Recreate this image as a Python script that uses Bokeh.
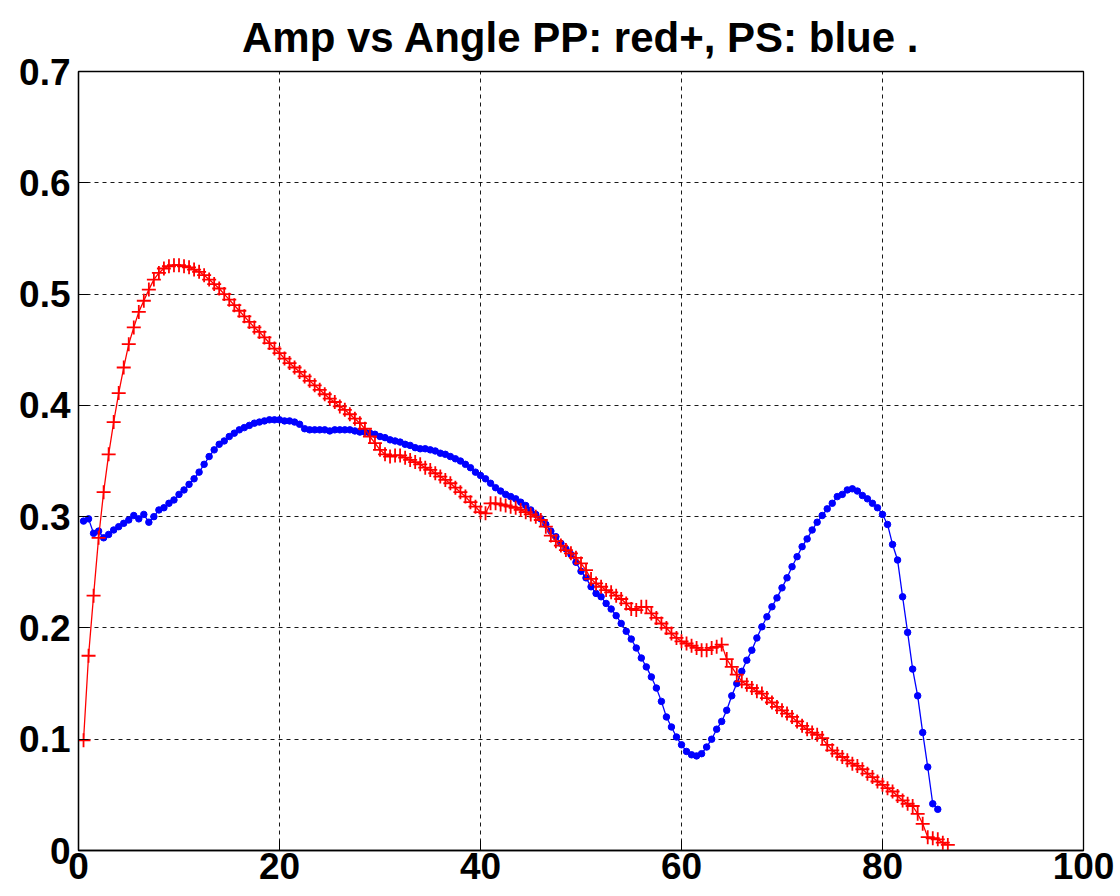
from bokeh.plotting import figure
from bokeh.models import Range1d, FixedTicker
from bokeh.embed import file_html
from bokeh.resources import INLINE

title_text = "Amp vs Angle PP: red+, PS: blue ."

# incidence angle samples (degrees)
angle = [
    0.5, 1.0, 1.5, 2.0, 2.5, 3.0, 3.5, 4.0, 4.5, 5.0,
    5.5, 6.0, 6.5, 7.0, 7.5, 8.0, 8.5, 9.0, 9.5, 10.0,
    10.5, 11.0, 11.5, 12.0, 12.5, 13.0, 13.5, 14.0, 14.5, 15.0,
    15.5, 16.0, 16.5, 17.0, 17.5, 18.0, 18.5, 19.0, 19.5, 20.0,
    20.5, 21.0, 21.5, 22.0, 22.5, 23.0, 23.5, 24.0, 24.5, 25.0,
    25.5, 26.0, 26.5, 27.0, 27.5, 28.0, 28.5, 29.0, 29.5, 30.0,
    30.5, 31.0, 31.5, 32.0, 32.5, 33.0, 33.5, 34.0, 34.5, 35.0,
    35.5, 36.0, 36.5, 37.0, 37.5, 38.0, 38.5, 39.0, 39.5, 40.0,
    40.5, 41.0, 41.5, 42.0, 42.5, 43.0, 43.5, 44.0, 44.5, 45.0,
    45.5, 46.0, 46.5, 47.0, 47.5, 48.0, 48.5, 49.0, 49.5, 50.0,
    50.5, 51.0, 51.5, 52.0, 52.5, 53.0, 53.5, 54.0, 54.5, 55.0,
    55.5, 56.0, 56.5, 57.0, 57.5, 58.0, 58.5, 59.0, 59.5, 60.0,
    60.5, 61.0, 61.5, 62.0, 62.5, 63.0, 63.5, 64.0, 64.5, 65.0,
    65.5, 66.0, 66.5, 67.0, 67.5, 68.0, 68.5, 69.0, 69.5, 70.0,
    70.5, 71.0, 71.5, 72.0, 72.5, 73.0, 73.5, 74.0, 74.5, 75.0,
    75.5, 76.0, 76.5, 77.0, 77.5, 78.0, 78.5, 79.0, 79.5, 80.0,
    80.5, 81.0, 81.5, 82.0, 82.5, 83.0, 83.5, 84.0, 84.5, 85.0,
    85.5, 86.0, 86.5,
]

# PP amplitude (red +)
pp_amp = [
    0.099, 0.175, 0.229, 0.281, 0.322, 0.356, 0.385, 0.411, 0.434, 0.455,
    0.470, 0.484, 0.494, 0.504, 0.513, 0.519, 0.523, 0.525, 0.526, 0.526,
    0.525, 0.524, 0.522, 0.520, 0.517, 0.513, 0.509, 0.505, 0.500, 0.495,
    0.490, 0.485, 0.480, 0.475, 0.470, 0.466, 0.461, 0.456, 0.451, 0.447,
    0.442, 0.438, 0.434, 0.430, 0.426, 0.422, 0.418, 0.414, 0.410, 0.406,
    0.403, 0.399, 0.396, 0.392, 0.388, 0.384, 0.379, 0.372, 0.366, 0.360,
    0.356, 0.354, 0.355, 0.355, 0.353, 0.351, 0.349, 0.347, 0.344, 0.342,
    0.339, 0.336, 0.333, 0.330, 0.326, 0.322, 0.318, 0.313, 0.309, 0.304,
    0.303, 0.312, 0.312, 0.311, 0.310, 0.309, 0.308, 0.306, 0.304, 0.302,
    0.300, 0.297, 0.291, 0.283, 0.278, 0.274, 0.270, 0.267, 0.263, 0.258,
    0.252, 0.244, 0.240, 0.237, 0.234, 0.232, 0.229, 0.226, 0.222, 0.217,
    0.216, 0.219, 0.219, 0.213, 0.209, 0.204, 0.200, 0.195, 0.191, 0.188,
    0.186, 0.184, 0.182, 0.180, 0.180, 0.182, 0.183, 0.185, 0.172, 0.165,
    0.158, 0.152, 0.149, 0.146, 0.143, 0.141, 0.137, 0.133, 0.129, 0.126,
    0.123, 0.120, 0.116, 0.112, 0.109, 0.106, 0.104, 0.101, 0.095, 0.090,
    0.087, 0.084, 0.081, 0.078, 0.076, 0.073, 0.069, 0.066, 0.062, 0.059,
    0.056, 0.053, 0.049, 0.045, 0.042, 0.040, 0.033, 0.024, 0.012, 0.011,
    0.010, 0.007, 0.005,
]

# PS amplitude (blue .)
ps_amp = [
    0.296, 0.298, 0.285, 0.287, 0.281, 0.284, 0.288, 0.291, 0.294, 0.297,
    0.301, 0.298, 0.302, 0.295, 0.300, 0.306, 0.308, 0.312, 0.315, 0.320,
    0.324, 0.329, 0.334, 0.340, 0.347, 0.354, 0.360, 0.365, 0.368, 0.372,
    0.375, 0.378, 0.380, 0.382, 0.384, 0.385, 0.386, 0.387, 0.387, 0.387,
    0.386, 0.386, 0.385, 0.383, 0.379, 0.378, 0.378, 0.378, 0.378, 0.377,
    0.378, 0.378, 0.378, 0.378, 0.377, 0.376, 0.376, 0.375, 0.374, 0.372,
    0.371, 0.369, 0.368, 0.367, 0.365, 0.364, 0.362, 0.361, 0.361, 0.360,
    0.359, 0.357, 0.356, 0.354, 0.352, 0.350, 0.347, 0.344, 0.340, 0.337,
    0.334, 0.330, 0.326, 0.323, 0.320, 0.318, 0.316, 0.313, 0.310, 0.306,
    0.302, 0.298, 0.293, 0.287, 0.282, 0.276, 0.271, 0.266, 0.259, 0.251,
    0.245, 0.237, 0.231, 0.228, 0.222, 0.217, 0.211, 0.204, 0.197, 0.190,
    0.182, 0.173, 0.165, 0.156, 0.146, 0.134, 0.120, 0.111, 0.102, 0.095,
    0.089, 0.086, 0.085, 0.087, 0.093, 0.100, 0.109, 0.116, 0.126, 0.139,
    0.150, 0.161, 0.171, 0.180, 0.191, 0.201, 0.210, 0.219, 0.227, 0.236,
    0.245, 0.255, 0.264, 0.273, 0.280, 0.288, 0.295, 0.301, 0.307, 0.312,
    0.318, 0.320, 0.324, 0.325, 0.323, 0.319, 0.316, 0.312, 0.308, 0.302,
    0.293, 0.275, 0.261, 0.228, 0.196, 0.163, 0.139, 0.106, 0.075, 0.042,
    0.037,
]

x_ticks = [0, 20, 40, 60, 80, 100]
y_ticks = [0, 0.1, 0.2, 0.3, 0.4, 0.5, 0.6, 0.7]
y_tick_labels = ["0", "0.1", "0.2", "0.3", "0.4", "0.5", "0.6", "0.7"]

pp_angle = angle[:len(pp_amp)]
ps_angle = angle[:len(ps_amp)]

FONT = "Liberation Sans"

p = figure(width=1120, height=896, output_backend="svg", toolbar_location=None,
           x_range=Range1d(0, 100), y_range=Range1d(0, 0.7),
           min_border_left=78, min_border_right=37, min_border_top=71,
           min_border_bottom=46, background_fill_color="white",
           border_fill_color="white")

p.title.text = title_text
p.title.align = "center"
p.title.vertical_align = "bottom"
p.title.text_font = FONT
p.title.text_font_size = "42px"
p.title.text_font_style = "bold"
p.title.text_color = "black"
p.title.standoff = 22

p.outline_line_color = "black"
p.outline_line_width = 1.3

for ax, ticks in ((p.xaxis[0], x_ticks), (p.yaxis[0], y_ticks)):
    ax.ticker = FixedTicker(ticks=ticks)
    ax.major_label_text_font = FONT
    ax.major_label_text_font_size = "37px"
    ax.major_label_text_font_style = "bold"
    ax.major_label_text_color = "black"
    ax.major_tick_in = 10
    ax.major_tick_out = 0
    ax.minor_tick_line_color = None
    ax.axis_line_color = "black"
    ax.axis_line_width = 1.3
    ax.major_tick_line_color = "black"

p.xaxis.major_label_standoff = 2
p.yaxis.major_label_standoff = 8
p.yaxis.major_label_overrides = {t: s for t, s in zip(y_ticks, y_tick_labels)}

p.xgrid.ticker = FixedTicker(ticks=x_ticks)
p.ygrid.ticker = FixedTicker(ticks=y_ticks)
for g in (p.xgrid[0], p.ygrid[0]):
    g.grid_line_color = "black"
    g.grid_line_alpha = 0.9
    g.grid_line_dash = "4 4"
    g.grid_line_width = 1

# PS: blue line with dots
p.line(ps_angle, ps_amp, line_color="#0000ff", line_width=1.3)
p.scatter(ps_angle, ps_amp, marker="circle", size=6.5,
          fill_color="#0000ff", line_color="#0000ff")

# PP: red line with plus markers
p.line(pp_angle, pp_amp, line_color="#ff0000", line_width=1.3)
p.scatter(pp_angle, pp_amp, marker="cross", size=14,
          line_color="#ff0000", line_width=1.8)

open("out.html", "w").write(file_html(p, INLINE))
